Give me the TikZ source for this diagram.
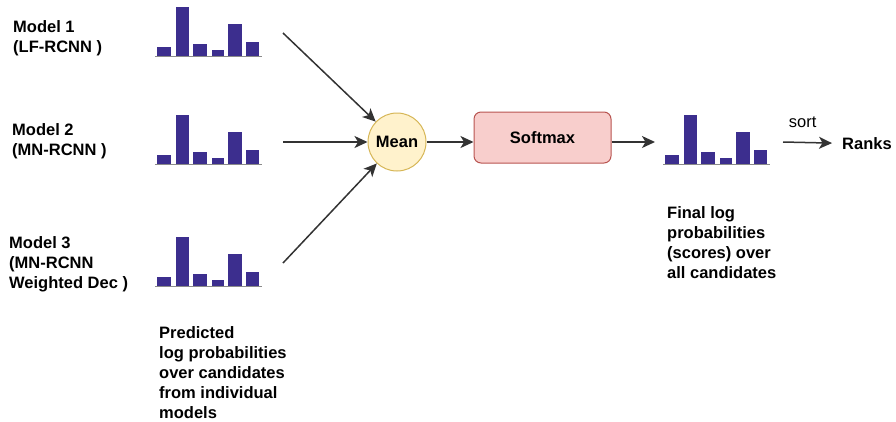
\documentclass[tikz,border=0pt]{standalone}
\usepackage{fontspec}
\setmainfont{Liberation Sans}
\usetikzlibrary{arrows.meta}
\definecolor{barc}{HTML}{3C2E8E}
\definecolor{basec}{HTML}{8A8A8A}
\definecolor{arrc}{HTML}{333333}
\definecolor{meanfill}{HTML}{FFF2CC}
\definecolor{meandraw}{HTML}{D6B656}
\definecolor{smfill}{HTML}{F8CECC}
\definecolor{smdraw}{HTML}{B85450}
\newcommand\drawhist[2]{%
  \begin{scope}[shift={(#1,#2)}]
    \fill[barc] (2,0) rectangle ++(14,-9);
    \fill[barc] (21,0) rectangle ++(13,-49);
    \fill[barc] (38,0) rectangle ++(14,-12);
    \fill[barc] (57,0) rectangle ++(12,-6);
    \fill[barc] (73,0) rectangle ++(14,-32);
    \fill[barc] (91,0) rectangle ++(13,-14);
    \draw[basec,line width=1.2pt] (0,0.6) -- (107,0.6);
  \end{scope}}
\begin{document}
\begin{tikzpicture}[x=1pt,y=-1pt,
  lbl/.style={font=\fontsize{16.5}{20}\selectfont\bfseries,align=left,inner sep=0pt,anchor=north west},
  arr/.style={draw=arrc,line width=1.5pt,-{Stealth[length=13pt,width=12pt,inset=3.5pt]}},
  meanbox/.style={circle,draw=meandraw,fill=meanfill,line width=1pt,minimum size=58pt,inner sep=0pt,font=\fontsize{16.5}{20}\selectfont\bfseries},
  smbox/.style={rectangle,rounded corners=7pt,draw=smdraw,fill=smfill,line width=1pt,minimum width=137pt,minimum height=51pt,inner sep=0pt,font=\fontsize{16.5}{20}\selectfont\bfseries}]
\useasboundingbox (0,0) rectangle (896,421);
% texts
\node[lbl] (m1) at (13,20) {Model 1\\(LF-RCNN )};
\node[lbl] (m2) at (12,123) {Model 2\\(MN-RCNN )};
\node[lbl] (m3) at (9,236) {Model 3\\(MN-RCNN\\Weighted Dec )};
\node[lbl] (pred) at (159,326) {Predicted\\log probabilities\\over candidates\\from individual\\models};
\node[lbl] (final) at (667,206) {Final log\\probabilities\\(scores) over\\all candidates};
% histograms
\drawhist{155}{56}
\drawhist{155}{164}
\drawhist{155}{286}
\drawhist{663}{164}
% nodes
\node[meanbox] (mean) at (397,142) {Mean};
\node[smbox] (softmax) at (542.5,137.5) {Softmax};
\node[font=\fontsize{16.5}{20}\selectfont\bfseries,inner ysep=0pt,inner xsep=10pt,anchor=base west] (ranks) at (832,149) {Ranks};
% connectors
\coordinate (a1) at (283,33);
\coordinate (a2) at (283,142);
\coordinate (a3) at (283,263);
\coordinate (fin) at (655,142);
\coordinate (s1) at (783,142);
\draw[arr] (a1) -- (mean);
\draw[arr] (a2) -- (mean);
\draw[arr] (a3) -- (mean);
\draw[arr] (mean.east) -- (mean.east -| softmax.west);
\draw[arr] (mean.east -| softmax.east) -- (fin);
\draw[arr] (s1) -- node[pos=0.4,above=14pt,font=\fontsize{16.5}{20}\selectfont,inner sep=0pt] (sortlbl) {sort} (ranks.west);
\end{tikzpicture}
\end{document}
